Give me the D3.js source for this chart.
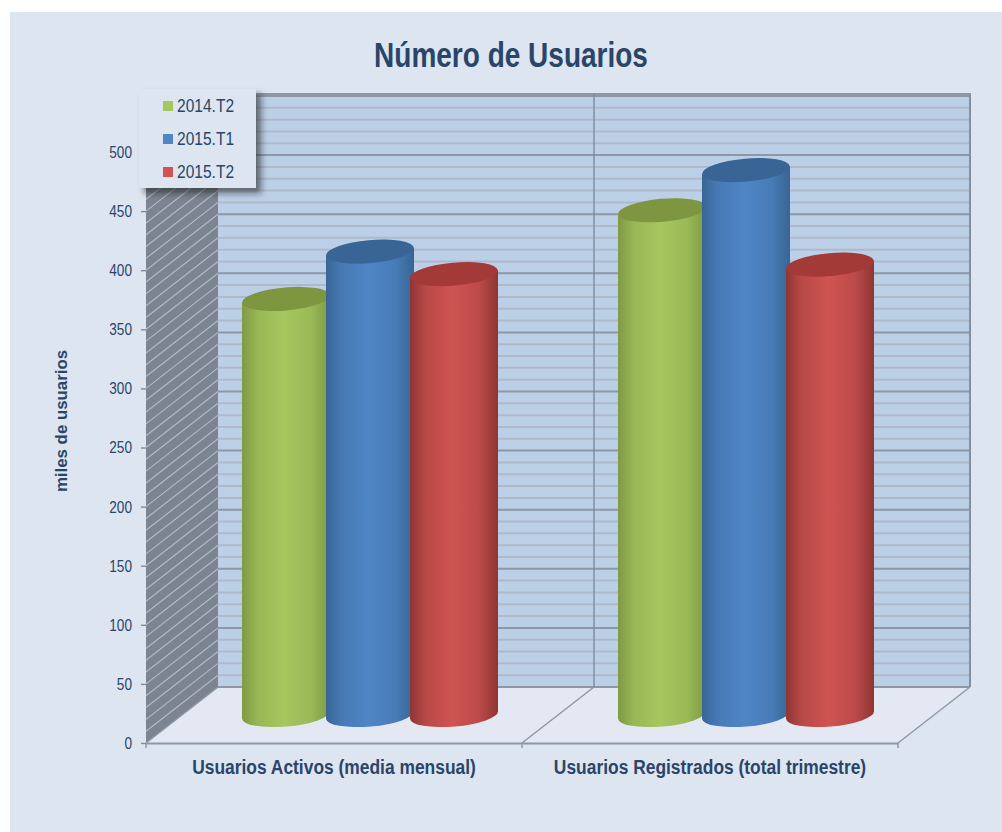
<!DOCTYPE html>
<html>
<head>
<meta charset="utf-8">
<script src="https://cdn.jsdelivr.net/npm/d3@7"></script>
<style>
  html, body { margin: 0; padding: 0; background: #fff; }
  svg { display: block; }
  text { font-family: "Liberation Sans", sans-serif; fill: #2a4568; }
</style>
</head>
<body>
<svg width="1002" height="832"></svg>
<script>
const categories = ["Usuarios Activos (media mensual)", "Usuarios Registrados (total trimestre)"];
const seriesNames = ["2014.T2", "2015.T1", "2015.T2"];
const activos = [352, 392, 373];
const registrados = [427, 461, 381];
const seriesColors = [
    { edge: "#7f9a45", mid: "#a6c75e", top: "#7d963f" },
    { edge: "#386596", mid: "#4f86c6", top: "#386596" },
    { edge: "#8f3533", mid: "#cf5452", top: "#a33a38" }
];

const svg = d3.select("svg");
const depth = { x: 72, y: -56 };
const yScale = d3.scaleLinear().domain([0, 500]).range([743, 152]);
const xScale = d3.scaleBand().domain(categories).range([146, 898]);
const seriesScale = d3.scaleBand().domain(seriesNames).range([-126, 126]);

const left = xScale.range()[0], right = xScale.range()[1], base = yScale(0);
const minor = d3.range(0, 501, 10);
const major = yScale.ticks(10);

// no narrow font installed, so squeeze the text horizontally
function squeeze(sel, factor) {
    sel.each(function() {
        const len = this.getComputedTextLength();
        d3.select(this).attr("textLength", len * factor).attr("lengthAdjust", "spacingAndGlyphs");
    });
}

// page background
svg.append("rect").attr("x", 10).attr("y", 12).attr("width", 992).attr("height", 820).attr("fill", "#dde5f1");

// back wall
const wallTop = yScale(500) + depth.y - 2;
svg.append("rect")
    .attr("x", left + depth.x).attr("y", wallTop)
    .attr("width", right - left).attr("height", base + depth.y - wallTop)
    .attr("fill", "#bbcfe7");
svg.selectAll(".minor").data(minor).enter().append("line")
    .attr("x1", left + depth.x).attr("x2", right + depth.x)
    .attr("y1", d => yScale(d) + depth.y).attr("y2", d => yScale(d) + depth.y)
    .attr("stroke", d => d % 50 === 0 ? "#8e97a6" : "#afb9ca")
    .attr("stroke-width", 2);
svg.append("path")
    .attr("d", `M${left + depth.x},${wallTop}L${right + depth.x},${wallTop}L${right + depth.x},${base + depth.y}`)
    .attr("fill", "none").attr("stroke", "#8e97a6").attr("stroke-width", 2);

// side wall
svg.append("path")
    .attr("d", `M${left},${base}L${left + depth.x},${base + depth.y}L${left + depth.x},${wallTop}L${left},${wallTop - depth.y}Z`)
    .attr("fill", "#7b8490");
svg.selectAll(".hatch").data(minor.slice(1)).enter().append("line")
    .attr("x1", left).attr("x2", left + depth.x)
    .attr("y1", d => yScale(d)).attr("y2", d => yScale(d) + depth.y)
    .attr("stroke", "#b4bac4").attr("stroke-width", 1.2);

// floor
svg.append("path")
    .attr("d", `M${left},${base}L${left + depth.x},${base + depth.y}L${right + depth.x},${base + depth.y}L${right},${base}Z`)
    .attr("fill", "#e3e8f3");
svg.append("line")
    .attr("x1", left + depth.x).attr("x2", right + depth.x)
    .attr("y1", base + depth.y).attr("y2", base + depth.y)
    .attr("stroke", "#8e97a6").attr("stroke-width", 2);

// category dividers on wall and floor
const edges = [left, left + xScale.step(), right];
edges.forEach(x => {
    svg.append("line")
        .attr("x1", x).attr("y1", base).attr("x2", x + depth.x).attr("y2", base + depth.y)
        .attr("stroke", "#8e97a6").attr("stroke-width", 1.4);
    svg.append("line")
        .attr("x1", x).attr("y1", base).attr("x2", x).attr("y2", base + 5)
        .attr("stroke", "#8e97a6").attr("stroke-width", 1.4);
    if (x > left) {
        svg.append("line")
            .attr("x1", x + depth.x).attr("y1", base + depth.y).attr("x2", x + depth.x).attr("y2", wallTop)
            .attr("stroke", "#7f8b9c").attr("stroke-width", 1.4);
    }
});

// gradients for cylinders
const defs = svg.append("defs");
seriesColors.forEach((c, i) => {
    const g = defs.append("linearGradient").attr("id", "cyl" + i);
    g.append("stop").attr("offset", "0%").attr("stop-color", c.edge);
    g.append("stop").attr("offset", "18%").attr("stop-color", d3.interpolateRgb(c.edge, c.mid)(0.65));
    g.append("stop").attr("offset", "48%").attr("stop-color", c.mid);
    g.append("stop").attr("offset", "78%").attr("stop-color", d3.interpolateRgb(c.edge, c.mid)(0.7));
    g.append("stop").attr("offset", "100%").attr("stop-color", c.edge);
});
const shadow = defs.append("filter").attr("id", "legendShadow")
    .attr("x", "-10%").attr("y", "-10%").attr("width", "130%").attr("height", "130%");
shadow.append("feDropShadow").attr("dx", 5).attr("dy", 5).attr("stdDeviation", 3)
    .attr("flood-color", "#222").attr("flood-opacity", 0.6);

// cylinders, left to right so each one overlaps the previous
const rx = 44, ry = 11.5, tilt = -5;
const floorMid = depth.y / 2;
const barData = categories.flatMap((c, ci) => seriesNames.map((s, si) => ({
    category: c, series: si, name: s, value: (ci === 0 ? activos : registrados)[si]
})));
const bars = svg.selectAll(".bar").data(barData).enter().append("g").attr("class", "bar")
    .attr("transform", d => `translate(${xScale(d.category) + xScale.bandwidth() / 2 + depth.x / 2 + seriesScale(d.name) + seriesScale.bandwidth() / 2},0)`);
const dyTilt = rx * Math.sin(tilt * Math.PI / 180);
bars.append("path")
    .attr("d", d => {
        const t = yScale(d.value) + floorMid, b = base + floorMid;
        return `M${-rx},${t - dyTilt}L${-rx},${b - dyTilt}A${rx},${ry} ${tilt} 0 0 ${rx},${b + dyTilt}L${rx},${t + dyTilt}Z`;
    })
    .attr("fill", d => `url(#cyl${d.series})`);
bars.append("ellipse")
    .attr("rx", rx).attr("ry", ry)
    .attr("transform", d => `translate(0,${yScale(d.value) + floorMid}) rotate(${tilt})`)
    .attr("fill", d => seriesColors[d.series].top);

// axes
const yAxis = svg.append("g").attr("transform", `translate(${left},0)`)
    .call(d3.axisLeft(yScale).tickValues(major).tickSize(5).tickPadding(9));
yAxis.select(".domain").remove();
yAxis.selectAll("line").attr("stroke", "#7f8b9c").attr("stroke-width", 1.4);
yAxis.selectAll("text").style("font-size", "17px").attr("text-anchor", "end").call(squeeze, 0.8);

const xAxis = svg.append("g").attr("transform", `translate(0,${base})`)
    .call(d3.axisBottom(xScale).tickSize(0).tickPadding(17));
xAxis.select(".domain").attr("stroke", "#8e97a6").attr("stroke-width", 2);
xAxis.selectAll("text").style("font-size", "20px").style("font-weight", "bold").call(squeeze, 0.87);

// titles
svg.append("text").attr("x", 511).attr("y", 67).attr("text-anchor", "middle")
    .style("font-size", "35px").style("font-weight", "bold").text("Número de Usuarios")
    .call(squeeze, 0.8);
svg.append("text").attr("transform", "translate(67,421) rotate(-90)").attr("text-anchor", "middle")
    .style("font-size", "17px").style("font-weight", "bold").text("miles de usuarios")
    .call(squeeze, 0.99);

// legend
const legend = svg.append("g");
legend.append("rect").attr("x", 139).attr("y", 89).attr("width", 117).attr("height", 99)
    .attr("fill", "#dde5f1").attr("filter", "url(#legendShadow)");
const legendY = d3.scalePoint().domain(seriesNames).range([106, 172]);
seriesNames.forEach((s, i) => {
    legend.append("rect").attr("x", 163).attr("y", legendY(s) - 5).attr("width", 10).attr("height", 10)
        .attr("fill", seriesColors[i].mid);
    legend.append("text").attr("x", 177).attr("y", legendY(s) + 6).style("font-size", "18.5px").text(s)
        .call(squeeze, 0.84);
});
</script>
</body>
</html>
